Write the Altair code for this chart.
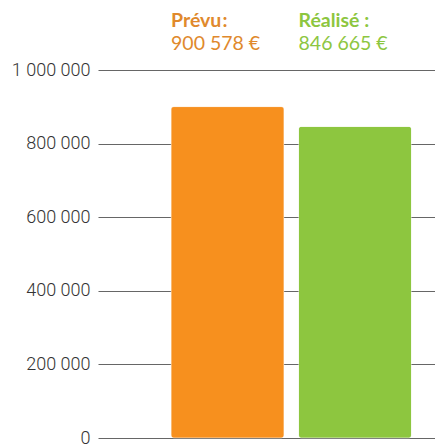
import altair as alt
import pandas as pd

categories = ["Prévu", "Réalisé"]
titles = ["Prévu\u200a:", "Réalisé :"]
values = [900578, 846665]
bar_colors = ["#F7901E", "#8DC63F"]
text_colors = ["#E0892C", "#8DC63F"]
y_ticks = [0, 200000, 400000, 600000, 800000, 1000000]

df = pd.DataFrame({"cat": categories, "title": titles, "value": values})

x = alt.X("cat:N", sort=categories, axis=None,
          scale=alt.Scale(paddingInner=0.114, paddingOuter=0.3786, align=0.7565))
color = alt.Color("cat:N", scale=alt.Scale(domain=categories, range=bar_colors), legend=None)
tcolor = alt.Color("cat:N", scale=alt.Scale(domain=categories, range=text_colors), legend=None)

bars = alt.Chart(df).mark_bar(cornerRadius=3, stroke="white", strokeOpacity=0.35, strokeWidth=1).encode(
    x=x,
    y=alt.Y("value:Q", scale=alt.Scale(domain=[0, 1000000], nice=False),
            axis=alt.Axis(values=y_ticks, title=None, domain=False, ticks=False, grid=True,
                          gridColor="#666666", gridWidth=1.2, gridOpacity=1,
                          labelFont="Roboto", labelFontWeight=300, labelFontSize=18, labelColor="#333333",
                          labelPadding=8, format=",.0f")),
    color=color,
)

t1 = alt.Chart(df).mark_text(align="left", baseline="alphabetic", font="Lato", fontWeight="bold",
                             fontSize=19.5, dx=-56.5).encode(
    x=x, y=alt.value(-43), text="title:N", color=tcolor)

t2 = alt.Chart(df).transform_calculate(
    lab="format(datum.value, ',') + ' €'"
).mark_text(align="left", baseline="alphabetic", font="Lato", fontSize=19.5, dx=-56.5).encode(
    x=x, y=alt.value(-20), text="lab:N", color=tcolor)

chart = alt.layer(bars, t1, t2).resolve_scale(color="independent").properties(
    width=337, height=368,
    autosize=alt.AutoSizeParams(type="none"),
    padding={"left": 90, "top": 62, "right": 0, "bottom": 7},
).configure_view(stroke=None)

chart.save("out.html", embed_options={"renderer": "svg", "actions": False,
                                      "formatLocale": {"decimal": ",", "thousands": " ",
                                                       "grouping": [3], "currency": ["", " €"]}})
